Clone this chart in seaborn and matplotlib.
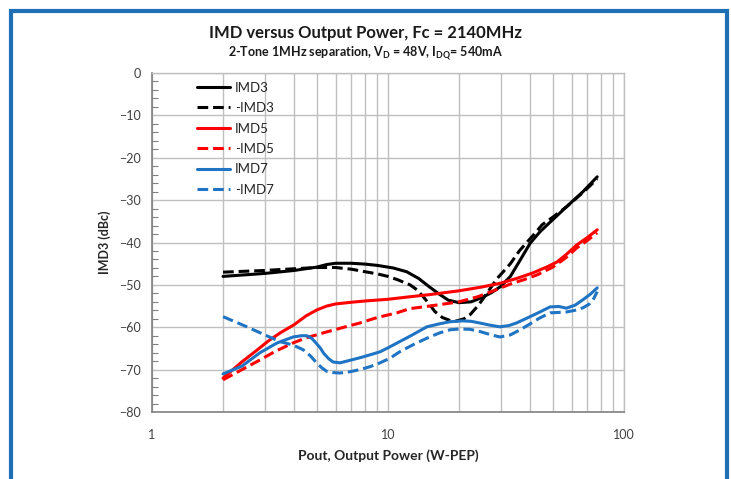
import matplotlib
matplotlib.use("Agg")
import matplotlib.pyplot as plt
from matplotlib.patches import Rectangle
from matplotlib.ticker import FixedLocator, NullFormatter
import seaborn as sns
import pandas as pd

# ---- data ----
imd3_x = [2, 3, 4, 5, 5.5, 6, 7, 8, 9, 10.5, 12, 13.5, 15, 16.5, 18, 20, 22.5, 25, 27.5, 30,
          33, 36, 40, 44, 48, 57, 67, 77]
imd3_y = [-48, -47.3, -46.6, -45.8, -45.2, -44.9, -44.9, -45.1, -45.4, -46, -46.9, -48.5, -50.5,
          -52.2, -53.6, -54.2, -54, -53, -51.8, -50.4, -48, -44.5, -40.2, -37.5, -35.5, -31.6,
          -28, -24.5]

nimd3_x = [2, 3, 4, 5, 6, 7, 8, 9, 10, 11, 12.4, 13.3, 14.1, 15, 15.8, 17, 18.3, 19.6, 21, 22.3,
           24, 25.5, 27, 29, 31, 33, 36, 39, 42, 45, 50, 57, 67, 77]
nimd3_y = [-47, -46.6, -46.2, -45.9, -45.9, -46.3, -46.9, -47.4, -48, -48.8, -50, -51.2, -52.8,
           -54.6, -56.3, -57.7, -58.4, -58.5, -58, -57, -55, -53, -51, -48.5, -46.7, -45, -42,
           -39.8, -37.8, -35.8, -34, -31.6, -28.2, -25]

imd5_x = [2, 2.4, 2.8, 3.1, 3.5, 4, 4.5, 5, 5.5, 6, 7, 8, 10, 12.4, 15, 20, 25, 30, 35, 41, 47,
          52, 57, 63, 70, 77]
imd5_y = [-72, -68.2, -65.3, -63.3, -61.3, -59.4, -57.3, -55.9, -55, -54.5, -54.1, -53.8, -53.4,
          -52.8, -52.3, -51.4, -50.5, -49.6, -48.5, -47.2, -45.8, -44.6, -42.8, -40.6, -38.8, -37]

nimd5_x = [2, 2.5, 2.87, 3.3, 3.96, 4.5, 5.5, 6.5, 7.6, 9, 10.9, 12.4, 15, 20, 24, 28, 33, 38,
           43, 50, 57, 63, 70, 77]
nimd5_y = [-72.4, -69.5, -67.7, -65.8, -63.7, -62.5, -61.1, -60, -59, -57.7, -56.6, -55.6, -55,
           -54, -52.8, -51.4, -49.8, -48.7, -47.6, -45.8, -43.5, -41.3, -39.5, -37.7]

imd7_x = [2, 2.4, 2.87, 3.39, 3.96, 4.3, 4.53, 4.75, 4.95, 5.15, 5.35, 5.6, 5.85, 6.26, 6.9, 7.6,
          8.4, 9.25, 10.2, 11.2, 12.5, 14.6, 16.5, 18.3, 20.7, 22.5, 24.5, 27, 29.8, 32.5, 35, 40,
          44, 48.6, 53, 57, 62, 67, 72, 77]
imd7_y = [-71, -69.2, -66, -63.7, -62.3, -62, -62, -62.6, -63.7, -64.8, -66.2, -67.4, -68.2, -68.4,
          -67.8, -67.2, -66.5, -65.8, -64.6, -63.4, -62, -59.9, -59.2, -58.7, -58.5, -58.6, -59,
          -59.5, -59.9, -59.6, -59, -57.5, -56.4, -55.2, -55.1, -55.5, -54.8, -53.5, -52.2, -50.7]

nimd7_x = [2, 2.5, 2.87, 3.49, 3.96, 4.37, 4.7, 5, 5.25, 5.5, 5.85, 6.26, 6.9, 7.6, 8.4, 9.25,
           10.2, 11.2, 13, 15, 16.6, 18.3, 20.2, 22.3, 24.5, 27, 29.8, 33, 36.3, 40, 44, 48.6, 53,
           57, 62, 67, 71, 74, 77]
nimd7_y = [-57.5, -59.8, -61.3, -63.4, -64.2, -65.3, -66.8, -68.5, -69.6, -70.4, -70.7, -70.8,
           -70.5, -70, -69.3, -68.4, -67.3, -65.8, -63.9, -62.3, -61.3, -60.6, -60.4, -60.5, -61,
           -61.7, -62.3, -61.8, -60.6, -59.2, -57.8, -56.6, -56.5, -56.4, -56, -55.4, -54.6,
           -53.5, -51.6]

series_names = ["IMD3", "-IMD3", "IMD5", "-IMD5", "IMD7", "-IMD7"]
x_tick_labels = ["1", "10", "100"]
y_ticks = [0, -10, -20, -30, -40, -50, -60, -70, -80]

# ---- style ----
sns.set_theme(style="white")
plt.rcParams["font.family"] = ["Lato", "DejaVu Sans"]
plt.rcParams["mathtext.fontset"] = "custom"
plt.rcParams["mathtext.rm"] = "Lato:bold"

BLACK = "#000000"
RED = "#FF0000"
BLUE = "#1F74C4"
colors = [BLACK, BLACK, RED, RED, BLUE, BLUE]
dashed = [False, True, False, True, False, True]
xs = [imd3_x, nimd3_x, imd5_x, nimd5_x, imd7_x, nimd7_x]
ys = [imd3_y, nimd3_y, imd5_y, nimd5_y, imd7_y, nimd7_y]

fig = plt.figure(figsize=(7.31, 4.79), dpi=100)
ax = fig.add_axes([152 / 731, 1 - 412 / 479, (624 - 152) / 731, (412 - 73) / 479])

for name, x, y, c, d in zip(series_names, xs, ys, colors, dashed):
    df = pd.DataFrame({"x": x, "y": y})
    sns.lineplot(data=df, x="x", y="y", ax=ax, color=c, linewidth=2.2, label=name,
                 linestyle=(0, (3.5, 1.6)) if d else "-", sort=True)
for ln in ax.get_lines():
    ln.set_solid_joinstyle("round")
    ln.set_dash_joinstyle("round")

ax.set_xscale("log")
ax.set_xlim(1, 100)
ax.set_ylim(-80, 0)

ax.set_xticks([1, 10, 100])
ax.set_xticklabels(x_tick_labels)
minor_x = [m * 10 ** e for e in (0, 1) for m in range(2, 10)]
ax.xaxis.set_minor_locator(FixedLocator(minor_x))
ax.xaxis.set_minor_formatter(NullFormatter())
ax.set_yticks(y_ticks)
ax.yaxis.set_minor_locator(FixedLocator(list(range(-80, 1, 2))))

ax.grid(True, which="major", color="#BFBFBF", linewidth=1.0)
ax.grid(True, which="minor", axis="x", color="#BFBFBF", linewidth=1.0)
ax.set_axisbelow(True)

ax.tick_params(axis="both", which="major", length=0, labelsize=9, colors="#404040", pad=8)
ax.tick_params(axis="x", which="major", pad=12)
ax.tick_params(axis="x", which="minor", length=0)
ax.tick_params(axis="y", which="minor", direction="in", length=4, width=0.8, color="#808080", left=True)

for side in ("left", "bottom"):
    ax.spines[side].set_color("#808080")
    ax.spines[side].set_linewidth(1.2)
for side in ("top", "right"):
    ax.spines[side].set_color("#BFBFBF")
    ax.spines[side].set_linewidth(1.0)

ax.set_xlabel("Pout, Output Power (W-PEP)", fontsize=10, fontweight="bold", color="#262626", labelpad=6)
ax.set_ylabel("IMD3 (dBc)", fontsize=9, fontweight="bold", color="#262626", labelpad=6)

leg = ax.legend(loc="upper left", bbox_to_anchor=(0.085, 0.99), frameon=False, fontsize=9.5,
                handlelength=2.5, handletextpad=0.35, labelspacing=0.64, borderaxespad=0)
for t in leg.get_texts():
    t.set_color("#262626")

fig.text(0.5, 1 - 33 / 479, "IMD versus Output Power, Fc = 2140MHz", ha="center", va="center",
         fontsize=12, fontweight="bold", color="#1a1a1a")
fig.text(0.5, 1 - 53 / 479,
         r"2-Tone 1MHz separation, V$_\mathrm{D}$ = 48V, I$_\mathrm{DQ}$= 540mA",
         ha="center", va="center", fontsize=9, fontweight="bold", color="#1a1a1a")

fig.add_artist(Rectangle((11 / 731, -0.05), (727 - 11) / 731, 1.05 - 11 / 479,
                         transform=fig.transFigure, fill=False, edgecolor="#1F6FB5",
                         linewidth=3, clip_on=False))

fig.savefig("out.png", dpi=100)
